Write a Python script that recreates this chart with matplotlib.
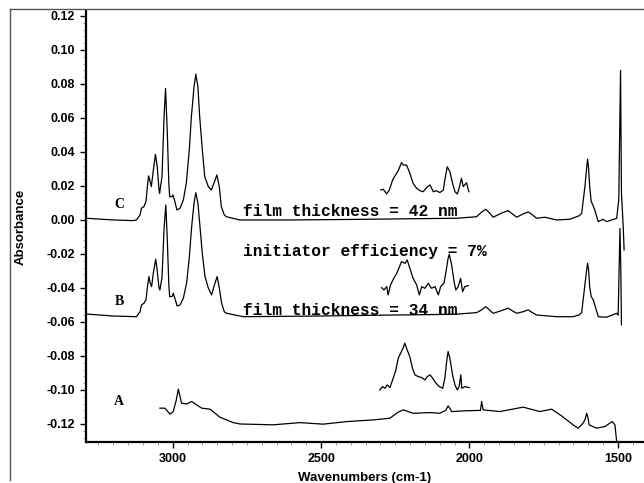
import matplotlib
matplotlib.use("Agg")
import matplotlib.pyplot as plt
from matplotlib.lines import Line2D
from matplotlib.ticker import MultipleLocator, FormatStrFormatter

plt.rcParams['axes.unicode_minus'] = False

# spectrum C (film 42 nm)
wn_c = [3292, 3200, 3135, 3122, 3110, 3105, 3097, 3090, 3084, 3081, 3076, 3072,
        3065, 3058, 3052, 3046, 3044, 3036, 3029, 3024, 3018, 3013, 3010, 3002,
        2999, 2991, 2986, 2975, 2964, 2954, 2944, 2937, 2928, 2922, 2915, 2909,
        2900, 2892, 2880, 2870, 2859, 2851, 2843, 2836, 2826, 2819, 2774,
        2600, 2400, 2200, 2043, 1976, 1960, 1945, 1932, 1920, 1895, 1870, 1855,
        1841, 1820, 1802, 1788, 1774, 1746, 1707, 1662, 1630, 1622, 1611, 1605,
        1602, 1599, 1595, 1590, 1583, 1578, 1566, 1550, 1538, 1521, 1504, 1497,
        1491, 1488, 1482, 1479]
abs_c = [0.001, 0.0, -0.0004, 0.0, 0.003, 0.0069, 0.0078, 0.0108, 0.0216, 0.0259,
         0.0225, 0.0196, 0.0294, 0.0386, 0.0313, 0.0176, 0.0157, 0.0255, 0.0607,
         0.0774, 0.051, 0.0216, 0.0137, 0.0137, 0.0147, 0.0098, 0.0059, 0.0069,
         0.0118, 0.0216, 0.0412, 0.0607, 0.0784, 0.0858, 0.0784, 0.0607, 0.0412,
         0.0255, 0.0196, 0.0176, 0.0225, 0.0265, 0.0196, 0.0078, 0.0029, 0.0019,
         0.0, 0.0, 0.0003, 0.0007, 0.001, 0.0019, 0.0045, 0.0063, 0.004, 0.0016,
         0.0038, 0.0055, 0.0035, 0.0016, 0.0035, 0.0047, 0.003, 0.001, 0.0016,
         0.0, 0.0004, 0.0025, 0.0039, 0.0196, 0.031, 0.0357, 0.031, 0.0196,
         0.011, 0.0082, 0.0059, -0.001, 0.0004, -0.001, 0.0, 0.001, 0.012, 0.088,
         0.016, -0.004, -0.0176]

# spectrum B (film 34 nm)
wn_b = [3292, 3200, 3122, 3110, 3105, 3097, 3090, 3084, 3080, 3076, 3071, 3065,
        3057, 3052, 3046, 3043, 3036, 3029, 3023, 3018, 3013, 3010, 3002, 2998,
        2991, 2985, 2975, 2964, 2953, 2944, 2936, 2928, 2922, 2915, 2908, 2900,
        2891, 2880, 2869, 2859, 2850, 2843, 2835, 2826, 2818, 2762, 2500, 2300,
        2100, 2043, 1976, 1960, 1945, 1932, 1920, 1895, 1870, 1855, 1841, 1820,
        1802, 1788, 1774, 1707, 1651, 1630, 1622, 1611, 1605, 1602, 1599, 1595,
        1590, 1583, 1566, 1538, 1504, 1499, 1493, 1490, 1488]
abs_b = [-0.0553, -0.0565, -0.0569, -0.054, -0.050, -0.049, -0.047, -0.038,
         -0.0333, -0.037, -0.0392, -0.031, -0.0231, -0.030, -0.040, -0.0412,
         -0.034, -0.005, 0.0088, -0.012, -0.038, -0.0451, -0.045, -0.0431,
         -0.047, -0.0506, -0.050, -0.046, -0.0372, -0.022, -0.0039, 0.010, 0.016,
         0.010, -0.0039, -0.020, -0.0333, -0.040, -0.0441, -0.038, -0.0333,
         -0.040, -0.049, -0.054, -0.0549, -0.0569, -0.0565, -0.056, -0.0556,
         -0.0554, -0.0545, -0.053, -0.051, -0.053, -0.0549, -0.0535, -0.0519,
         -0.0535, -0.0549, -0.054, -0.0529, -0.0545, -0.0559, -0.0569, -0.0569,
         -0.0558, -0.0545, -0.038, -0.029, -0.0255, -0.029, -0.0392, -0.045,
         -0.047, -0.0569, -0.0572, -0.0549, -0.056, -0.005, -0.03, -0.0617]

# spectrum A
wn_a = [3043, 3026, 3009, 2998, 2988, 2981, 2975, 2970, 2953, 2936, 2919, 2902,
        2874, 2841, 2796, 2773, 2661, 2571, 2493, 2414, 2324, 2268, 2240, 2223,
        2190, 2133, 2100, 2080, 2072, 2065, 2060, 2021, 1963, 1959, 1954, 1898,
        1819, 1763, 1723, 1690, 1651, 1634, 1617, 1610, 1605, 1600, 1597, 1572,
        1544, 1519, 1510, 1504]
abs_a = [-0.1107, -0.1107, -0.1142, -0.1127, -0.106, -0.0995, -0.104, -0.1078,
         -0.1082, -0.1068, -0.1088, -0.1107, -0.1113, -0.116, -0.1192, -0.12,
         -0.1205, -0.1192, -0.1201, -0.1186, -0.1176, -0.1166, -0.113, -0.1117,
         -0.1137, -0.1133, -0.1137, -0.112, -0.1094, -0.111, -0.1127, -0.1123,
         -0.112, -0.1068, -0.1117, -0.1127, -0.1101, -0.1127, -0.1113, -0.1152,
         -0.1205, -0.1225, -0.1195, -0.117, -0.1137, -0.117, -0.1205, -0.1225,
         -0.1215, -0.1186, -0.1205, -0.1304]

# magnified 2300-2000 cm-1 regions
wn_ic = [2299, 2291, 2279, 2270, 2259, 2251, 2240, 2229, 2223, 2212, 2201, 2190,
         2178, 2167, 2156, 2144, 2133, 2122, 2111, 2100, 2088, 2083, 2075, 2066,
         2057, 2049, 2041, 2035, 2027, 2021, 2010, 2002]
abs_ic = [0.0176, 0.0181, 0.0153, 0.0176, 0.0235, 0.0259, 0.029, 0.0337, 0.0323,
          0.0323, 0.0275, 0.0216, 0.0186, 0.0172, 0.0166, 0.0192, 0.0206, 0.0166,
          0.0172, 0.0161, 0.0176, 0.0235, 0.0313, 0.0284, 0.0216, 0.0166, 0.0153,
          0.0186, 0.0245, 0.0196, 0.0219, 0.0166]

wn_ib = [2296, 2288, 2279, 2274, 2266, 2255, 2245, 2237, 2229, 2217, 2210, 2201,
         2190, 2178, 2169, 2161, 2150, 2139, 2128, 2116, 2105, 2097, 2086, 2079,
         2072, 2068, 2060, 2052, 2046, 2038, 2030, 2023, 2016, 2004]
abs_ib = [-0.0398, -0.0412, -0.0392, -0.0441, -0.0382, -0.0343, -0.0313, -0.028,
          -0.0245, -0.0255, -0.0235, -0.0284, -0.0343, -0.0382, -0.0441, -0.0392,
          -0.0402, -0.0372, -0.0402, -0.0392, -0.0441, -0.0392, -0.0372, -0.0304,
          -0.0225, -0.0202, -0.0265, -0.0363, -0.0412, -0.0392, -0.0343, -0.0422,
          -0.0392, -0.0386]

wn_ia = [2302, 2293, 2285, 2277, 2268, 2257, 2248, 2240, 2232, 2223, 2218, 2210,
         2201, 2192, 2184, 2173, 2161, 2150, 2142, 2133, 2124, 2113, 2102, 2090,
         2083, 2077, 2072, 2066, 2057, 2049, 2041, 2035, 2029, 2026, 2015, 2001]
abs_ia = [-0.1, -0.098, -0.099, -0.097, -0.0986, -0.0931, -0.0882, -0.0813,
          -0.0784, -0.0751, -0.0725, -0.0764, -0.0804, -0.0872, -0.0911, -0.0921,
          -0.0927, -0.0941, -0.0921, -0.0911, -0.0931, -0.096, -0.098, -0.099,
          -0.0931, -0.0833, -0.0774, -0.0813, -0.0911, -0.097, -0.1, -0.098,
          -0.0911, -0.099, -0.098, -0.0986]

fig = plt.figure(figsize=(6.44, 4.83), dpi=100)
ax = fig.add_axes([86/644, 41/483, 558/644, 431/483])

for x, y in [(wn_c, abs_c), (wn_b, abs_b), (wn_a, abs_a),
             (wn_ic, abs_ic), (wn_ib, abs_ib), (wn_ia, abs_ia)]:
    ax.plot(x, y, color='black', lw=0.9)

ax.set_xlim(3292, 1412)
ax.set_ylim(-0.1306, 0.1229)

for s in ['top', 'right']:
    ax.spines[s].set_visible(False)
for s in ['left', 'bottom']:
    ax.spines[s].set_linewidth(1.6)

ax.xaxis.set_major_locator(MultipleLocator(500))
ax.xaxis.set_minor_locator(MultipleLocator(50))
ax.yaxis.set_major_locator(MultipleLocator(0.02))
ax.yaxis.set_minor_locator(MultipleLocator(0.004))
ax.yaxis.set_major_formatter(FormatStrFormatter('%.2f'))
ax.tick_params(which='major', direction='out', length=4, width=1, pad=4)
ax.tick_params(which='minor', direction='out', length=2, width=0.5, color='#777777')
for lab in ax.get_xticklabels() + ax.get_yticklabels():
    lab.set_fontfamily('Liberation Sans')
    lab.set_fontweight('bold')
    lab.set_fontsize(9)

ax.set_xlabel('Wavenumbers (cm-1)', fontfamily='Liberation Sans', fontweight='bold',
              fontsize=9.5, labelpad=5)
ax.set_ylabel('Absorbance', fontfamily='Liberation Sans', fontweight='bold',
              fontsize=9.5, labelpad=14)

serif = dict(fontfamily='Liberation Serif', fontweight='bold', fontsize=10,
             ha='center', va='center')
ax.text(3181, 0.0091, 'C', **serif)
ax.text(3180, -0.0482, 'B', **serif)
ax.text(3182, -0.1067, 'A', **serif)

mono = dict(fontfamily='Liberation Mono', fontweight='bold', fontsize=11.7,
            ha='left', va='baseline')
ax.text(2762, 0.0021, 'film thickness = 42 nm', **mono)
ax.text(2762, -0.0212, 'initiator efficiency = 7%', **mono)
ax.text(2762, -0.0561, 'film thickness = 34 nm', **mono)

# outer frame of the scanned figure
fig.add_artist(Line2D([10/644, 1.0], [1 - 9/483, 1 - 9/483], color='#555555', lw=1))
fig.add_artist(Line2D([10/644, 10/644], [1 - 9/483, 3/483], color='#555555', lw=1))

fig.savefig('out.png', dpi=100)
